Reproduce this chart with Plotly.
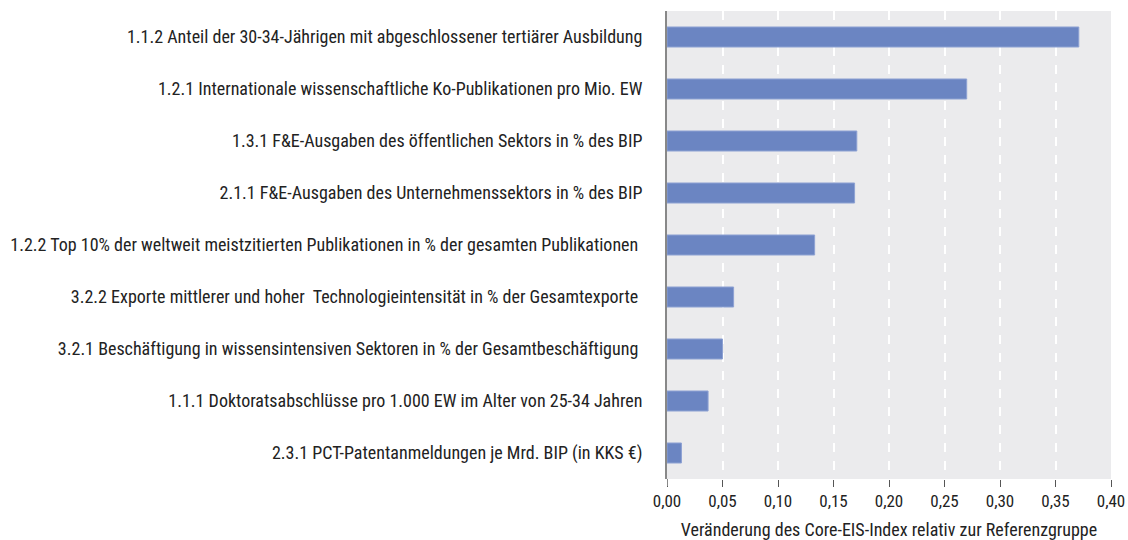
import plotly.graph_objects as go

categories = [
    "1.1.2 Anteil der 30-34-Jährigen mit abgeschlossener tertiärer Ausbildung",
    "1.2.1 Internationale wissenschaftliche Ko-Publikationen pro Mio. EW",
    "1.3.1 F&E-Ausgaben des öffentlichen Sektors in % des BIP",
    "2.1.1 F&E-Ausgaben des Unternehmenssektors in % des BIP",
    "1.2.2 Top 10% der weltweit meistzitierten Publikationen in % der gesamten Publikationen ",
    "3.2.2 Exporte mittlerer und hoher  Technologieintensität in % der Gesamtexporte ",
    "3.2.1 Beschäftigung in wissensintensiven Sektoren in % der Gesamtbeschäftigung ",
    "1.1.1 Doktoratsabschlüsse pro 1.000 EW im Alter von 25-34 Jahren",
    "2.3.1 PCT-Patentanmeldungen je Mrd. BIP (in KKS €)",
]
values = [0.371, 0.270, 0.171, 0.169, 0.133, 0.060, 0.050, 0.037, 0.013]
x_tickvals = [0.0, 0.05, 0.10, 0.15, 0.20, 0.25, 0.30, 0.35, 0.40]
x_title = "Veränderung des Core-EIS-Index relativ zur Referenzgruppe"

FONT = "Roboto Condensed, DejaVu Sans Condensed, sans-serif"

fig = go.Figure(
    go.Bar(
        x=values,
        y=categories,
        orientation="h",
        marker=dict(color="#6b85c2", line=dict(color="#8ea2d3", width=1)),
        width=0.385,
    )
)

fig.update_layout(
    width=1128,
    height=540,
    margin=dict(l=667, r=17, t=11, b=61),
    paper_bgcolor="white",
    plot_bgcolor="#ebebed",
    font=dict(family=FONT, size=18, color="#222222"),
    showlegend=False,
    separators=",.",
)

fig.update_xaxes(
    range=[0, 0.40],
    tickvals=x_tickvals,
    tickformat=".2f",
    showgrid=True,
    gridcolor="white",
    griddash="dash",
    gridwidth=2,
    zeroline=False,
    ticks="outside",
    ticklen=7,
    tickcolor="#555555",
    tickwidth=1,
    showline=False,
    automargin=False,
    title=dict(text=x_title, standoff=17, font=dict(size=18)),
    tickfont=dict(size=17),
)

fig.update_yaxes(
    autorange="reversed",
    showgrid=False,
    zeroline=False,
    showline=True,
    linecolor="#888888",
    linewidth=2,
    ticks="",
    automargin=False,
    ticklabelstandoff=19,
    tickfont=dict(size=18),
)

# small extension of the left axis line below the plot, like the reference
fig.add_shape(type="line", xref="x", yref="paper", x0=0, x1=0, y0=0, y1=-7 / 468,
              line=dict(color="#888888", width=2))

# remove the default page margin so the figure fills the window exactly
fig.write_html(
    "out.html",
    config={"displayModeBar": False},
    post_script="document.body.style.margin='0';document.body.style.overflow='hidden';",
)
